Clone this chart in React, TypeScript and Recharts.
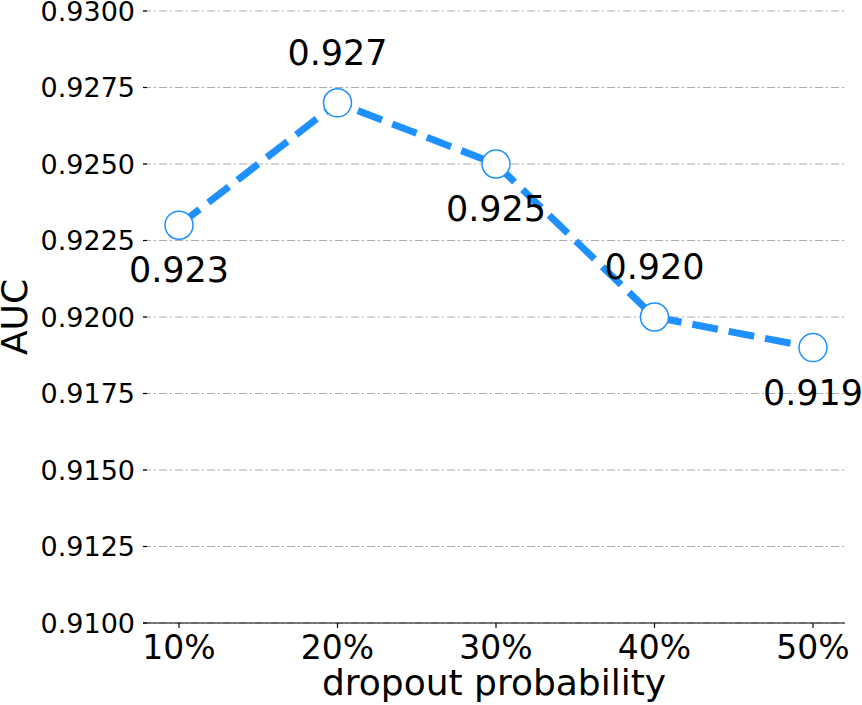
import React from "react";
import {
  LineChart,
  Line,
  XAxis,
  YAxis,
  CartesianGrid,
  LabelList,
} from "recharts";

const categories = ["10%", "20%", "30%", "40%", "50%"];
const aucValues = [0.923, 0.927, 0.925, 0.92, 0.919];
const yTicks = [0.91, 0.9125, 0.915, 0.9175, 0.92, 0.9225, 0.925, 0.9275, 0.93];

const data = categories.map((c, i) => ({ dropout: c, auc: aucValues[i] }));

const FONT = "'DejaVu Sans', sans-serif";
const BLUE = "#1E90FF";

function YTick(props: any) {
  const { x, y, payload } = props;
  return (
    <g>
      <line x1={x + 8} x2={x + 12} y1={y} y2={y} stroke="#000" strokeWidth={1.2} />
      <text
        x={x}
        y={y}
        dy="0.37em"
        textAnchor="end"
        fontSize={27}
        fontFamily={FONT}
        fill="#000"
      >
        {Number(payload.value).toFixed(4)}
      </text>
    </g>
  );
}

// odd points get the label above, even ones below (as in the figure)
function PointLabel(props: any) {
  const { x, y, value, index } = props;
  const above = index % 2 === 1;
  return (
    <text
      x={x}
      y={above ? y - 38 : y + 57}
      textAnchor="middle"
      fontSize={35}
      fontFamily={FONT}
      fill="#000"
    >
      {Number(value).toFixed(3)}
    </text>
  );
}

export default function App() {
  return (
    <div style={{ position: "absolute", left: 0, top: 0, background: "#fff" }}>
      <LineChart
        width={862}
        height={705}
        data={data}
        margin={{ top: 11, right: 17, bottom: 0, left: 0 }}
      >
        <CartesianGrid
          horizontal
          vertical={false}
          stroke="#aaaaaa"
          strokeWidth={1}
          strokeDasharray="8 3 2 3"
        />
        <XAxis
          dataKey="dropout"
          height={82}
          padding={{ left: 36, right: 32 }}
          axisLine={{ stroke: "#000", strokeWidth: 1.2 }}
          tickLine={{ stroke: "#000", strokeWidth: 1.2 }}
          tickSize={5}
          tickMargin={8}
          tick={{ fontSize: 33, fontFamily: FONT, fill: "#000" }}
          label={{
            value: "dropout probability",
            position: "insideBottom",
            offset: 10,
            style: { fontSize: 36, fontFamily: FONT, fill: "#000" },
          }}
        />
        <YAxis
          width={143}
          domain={[0.91, 0.93]}
          ticks={yTicks}
          interval={0}
          axisLine={false}
          tickLine={false}
          tickSize={0}
          tickMargin={8}
          tick={<YTick />}
          label={{
            value: "AUC",
            angle: -90,
            position: "insideLeft",
            offset: 14,
            style: { fontSize: 36, fontFamily: FONT, fill: "#000", textAnchor: "middle" },
          }}
        />
        <Line
          type="linear"
          dataKey="auc"
          stroke={BLUE}
          strokeWidth={7}
          strokeDasharray="26 11"
          dot={{ r: 14, fill: "#fff", stroke: BLUE, strokeWidth: 1.5, strokeDasharray: "" }}
          activeDot={false}
          isAnimationActive={false}
        >
          <LabelList dataKey="auc" content={<PointLabel />} />
        </Line>
      </LineChart>
    </div>
  );
}
